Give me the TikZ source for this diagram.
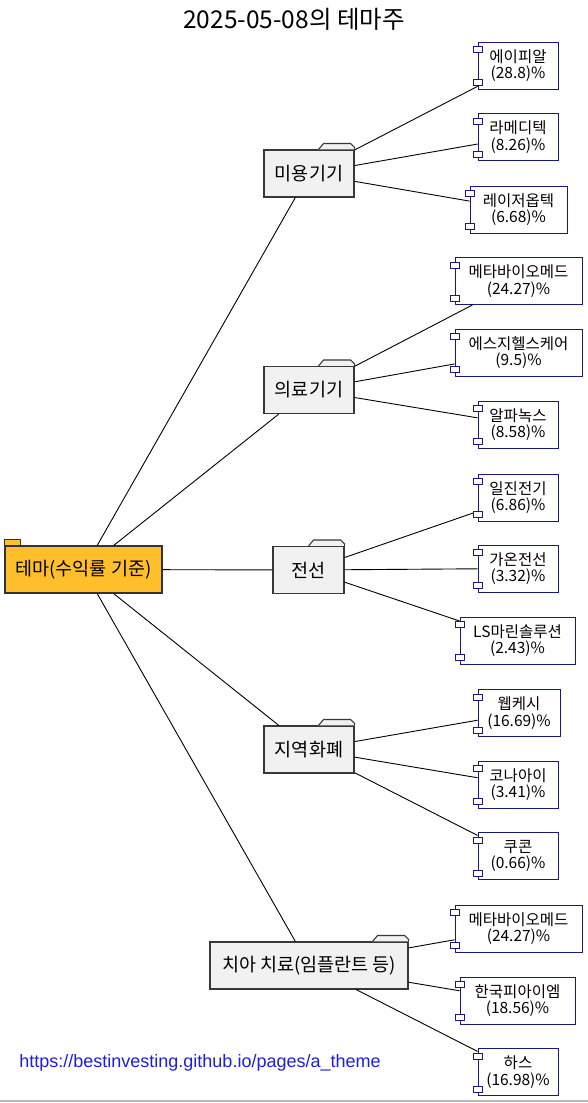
\documentclass[tikz,border=0pt]{standalone}
\usepackage{fontspec}
\setmainfont{Noto Sans CJK KR}
\newfontfamily\urlfont{Liberation Sans}
\definecolor{rootgold}{RGB}{254,191,42}
\definecolor{foldergray}{RGB}{241,241,241}
\definecolor{stocknavy}{RGB}{24,24,128}
\definecolor{urlblue}{RGB}{30,30,220}

\begin{document}
\begin{tikzpicture}[x=1pt,y=-1pt,
  theme/.style={draw=black!80,line width=1.1pt,fill=rootgold,minimum width=157pt,minimum height=47pt,inner sep=0pt,font=\fontsize{18.5}{21}\selectfont},
  folder/.style={draw=black!78,line width=1.1pt,fill=foldergray,minimum height=47pt,inner sep=0pt,font=\fontsize{18.5}{21}\selectfont},
  stock/.style={draw=stocknavy,line width=0.9pt,fill=white,minimum height=47pt,inner sep=0pt,align=center,font=\fontsize{15.5}{16.5}\selectfont},
  tab/.style={draw=black!78,line width=1.1pt,fill=foldergray,line join=round},
  plug/.style={draw=stocknavy,line width=0.9pt,fill=white},
  link/.style={black,line width=0.9pt}]
\useasboundingbox (0,0) rectangle (588,1103);
\draw[gray!55,line width=1.5pt] (0,1101) -- (588,1101);
\node (title) at (294,19) {\fontsize{24.5}{28}\selectfont 2025-05-08의 테마주};
\node[text=urlblue,font=\urlfont\fontsize{18}{21}\selectfont] (url) at (200,1063) {https://bestinvesting.github.io/pages/a\_theme};

\node[theme] (theme) at (83.5,569.5) {테마(수익률 기준)};

\node[folder,minimum width=90pt] (beauty) at (309,173.5) {미용기기};
\node[folder,minimum width=90pt] (medical) at (309,390) {의료기기};
\node[folder,minimum width=71pt] (cable) at (308.5,570) {전선};
\node[folder,minimum width=90pt] (localpay) at (309,749.5) {지역화폐};
\node[folder,minimum width=198pt] (dental) at (309,965.5) {치아 치료(임플란트 등)};

\node[stock,minimum width=80pt] (apr) at (518,65.5) {에이피알\\(28.8)\%};
\node[stock,minimum width=80pt] (ramedi) at (518,137) {라메디텍\\(8.26)\%};
\node[stock,minimum width=97pt] (laser) at (518.5,209.5) {레이저옵텍\\(6.68)\%};
\node[stock,minimum width=127pt] (metaa) at (518.5,281) {메타바이오메드\\(24.27)\%};
\node[stock,minimum width=127pt] (sg) at (518.5,352.5) {에스지헬스케어\\(9.5)\%};
\node[stock,minimum width=80pt] (alpha) at (518,424.5) {알파녹스\\(8.58)\%};
\node[stock,minimum width=80pt] (iljin) at (518,497.5) {일진전기\\(6.86)\%};
\node[stock,minimum width=80pt] (gaon) at (518,568.5) {가온전선\\(3.32)\%};
\node[stock,minimum width=115pt] (lsmarine) at (517.5,640.5) {LS마린솔루션\\(2.43)\%};
\node[stock,minimum width=82pt] (webcash) at (519,713) {웹케시\\(16.69)\%};
\node[stock,minimum width=80pt] (kona) at (518,784.5) {코나아이\\(3.41)\%};
\node[stock,minimum width=80pt] (coocon) at (518,856) {쿠콘\\(0.66)\%};
\node[stock,minimum width=127pt] (metab) at (518.5,928.5) {메타바이오메드\\(24.27)\%};
\node[stock,minimum width=115pt] (pim) at (517.5,1000.5) {한국피아이엠\\(18.56)\%};
\node[stock,minimum width=80pt] (hass) at (518,1072) {하스\\(16.98)\%};

\draw[link] (theme) -- (beauty); \draw[link] (theme) -- (medical); \draw[link] (theme) -- (cable);
\draw[link] (theme) -- (localpay); \draw[link] (theme) -- (dental);
\draw[link] (beauty) -- (apr); \draw[link] (beauty) -- (ramedi); \draw[link] (beauty) -- (laser);
\draw[link] (medical) -- (metaa); \draw[link] (medical) -- (sg); \draw[link] (medical) -- (alpha);
\draw[link] (cable) -- (iljin); \draw[link] (cable) -- (gaon); \draw[link] (cable) -- (lsmarine);
\draw[link] (localpay) -- (webcash); \draw[link] (localpay) -- (kona); \draw[link] (localpay) -- (coocon);
\draw[link] (dental) -- (metab); \draw[link] (dental) -- (pim); \draw[link] (dental) -- (hass);

\draw[tab,fill=rootgold,draw=black!80] (theme.north west) rectangle ++(16,-6);
\foreach \f in {beauty,medical,cable,localpay,dental}
  \draw[tab] (\f.north east) ++(-36,0) -- ++(5,-6) -- ++(27,0) -- ++(4,4) -- ++(0,2);
\foreach \s in {apr,ramedi,laser,metaa,sg,alpha,iljin,gaon,lsmarine,webcash,kona,coocon,metab,pim,hass}{
  \draw[plug] (\s.north west) ++(-4.5,5) rectangle ++(9,6);
  \draw[plug] (\s.south west) ++(-4.5,-10) rectangle ++(9,6);
}
\end{tikzpicture}
\end{document}
